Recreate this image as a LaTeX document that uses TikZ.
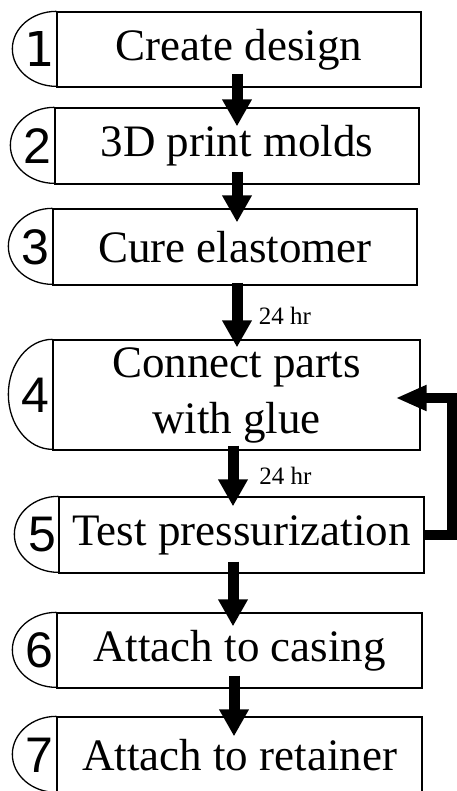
\documentclass[tikz,border=0pt]{standalone}
\usepackage{fontspec}
\setmainfont{Liberation Serif}
\newfontfamily\numfont{Liberation Sans}
\newfontfamily\onefont{DejaVu Sans}
\usetikzlibrary{arrows.meta,calc}
\tikzset{
  stepbox/.style={draw, line width=1.3pt, inner sep=0pt, align=center,
    font=\fontsize{45}{56}\selectfont},
  steptab/.style={draw, line width=1.3pt},
  stepnum/.style={inner sep=0pt, font=\numfont\fontsize{50}{50}\selectfont},
  flow/.style={line width=11pt, -{Triangle[width=28pt,length=27pt]}},
  loopback/.style={line width=10pt, line join=miter,
    -{Triangle[width=24pt,length=31pt]}},
  waitlabel/.style={inner sep=0pt, font=\fontsize{25}{25}\selectfont}
}
\begin{document}
\begin{tikzpicture}[x=1pt,y=1pt]
\useasboundingbox (0,0) rectangle (456,-791);

% step boxes
\node[stepbox, minimum width=364pt, minimum height=75pt] (b1) at (239,-49.5) {Create design};
\node[stepbox, minimum width=364pt, minimum height=76pt] (b2) at (237,-146) {3D print molds};
\node[stepbox, minimum width=364pt, minimum height=76pt] (b3) at (235,-247) {Cure elastomer};
\node[stepbox, minimum width=367pt, minimum height=110pt] (b4) at (236.5,-395) {Connect parts\\with glue};
\node[stepbox, minimum width=365pt, minimum height=76pt] (b5) at (241.5,-535) {Test pressurization};
\node[stepbox, minimum width=365pt, minimum height=75pt] (b6) at (239.5,-650.5) {Attach to casing};
\node[stepbox, minimum width=365pt, minimum height=76pt] (b7) at (239.5,-755) {Attach to retainer};

% rounded number tabs on the left of each box
\foreach \b/\h in {b1/37.5, b2/38, b3/38, b4/55, b5/38, b6/37.5, b7/38}{
  \draw[steptab] (\b.north west) arc[start angle=90, end angle=270, x radius=44pt, y radius=\h pt];
}
\node[stepnum, font=\onefont\fontsize{48}{48}\selectfont] (n1) at ([xshift=-17pt]b1.west) {1};
\node[stepnum] (n2) at ([xshift=-17pt]b2.west) {2};
\node[stepnum] (n3) at ([xshift=-17pt]b3.west) {3};
\node[stepnum] (n4) at ([xshift=-17pt]b4.west) {4};
\node[stepnum] (n5) at ([xshift=-16pt]b5.west) {5};
\node[stepnum] (n6) at ([xshift=-17pt]b6.west) {6};
\node[stepnum] (n7) at ([xshift=-17pt]b7.west) {7};

% flow between steps
\draw[flow] ([xshift=-2pt,yshift=14pt]b1.south) -- ([xshift=0pt,yshift=-19pt]b2.north);
\draw[flow] ([xshift=0pt,yshift=13pt]b2.south) -- ([xshift=2pt,yshift=-14pt]b3.north);
\draw[flow] ([xshift=2pt,yshift=3pt]b3.south) -- ([xshift=0.5pt,yshift=-8pt]b4.north);
\draw[flow] ([xshift=-3.5pt,yshift=5pt]b4.south) -- ([xshift=-8.5pt,yshift=-10pt]b5.north);
\draw[flow] ([xshift=-8.5pt,yshift=12pt]b5.south) -- ([xshift=-6.5pt,yshift=-14pt]b6.north);
\draw[flow] ([xshift=-5.5pt,yshift=13pt]b6.south) -- ([xshift=-5.5pt,yshift=-20pt]b7.north);

% waiting times
\node[waitlabel] (w34) at ([xshift=50pt,yshift=-30pt]b3.south) {24 hr};
\node[waitlabel] (w45) at ([xshift=49pt,yshift=-25pt]b4.south) {24 hr};

% repeat loop from testing back to gluing
\coordinate (loopend) at ([xshift=-25pt,yshift=-3pt]b4.east);
\draw[loopback] (b5.east) -- ++(27pt,0) |- (loopend);
\end{tikzpicture}
\end{document}
